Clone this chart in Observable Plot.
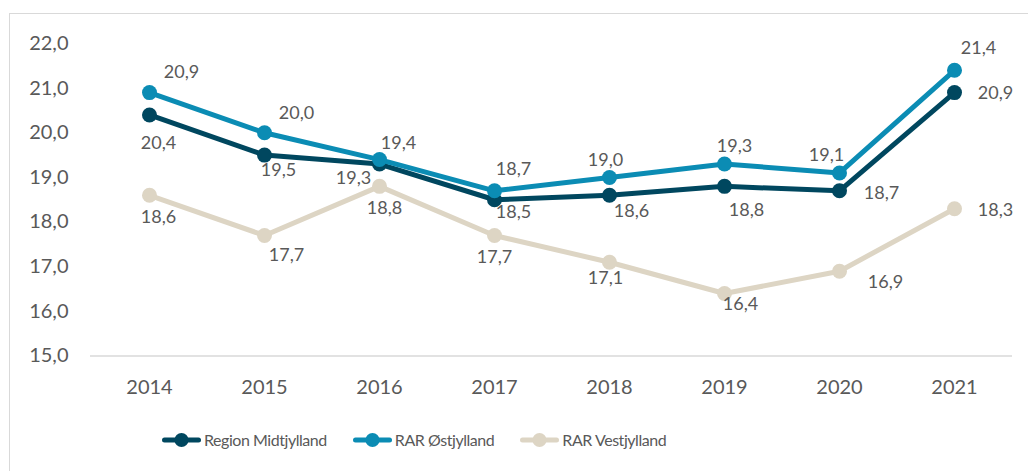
<!DOCTYPE html>
<html>
<head>
<meta charset="utf-8">
<script src="https://cdn.jsdelivr.net/npm/d3@7"></script>
<script src="https://cdn.jsdelivr.net/npm/@observablehq/plot@0.6"></script>
<style>
  html, body { margin: 0; padding: 0; background: #fff; overflow: hidden; }
  #wrap { position: relative; width: 1028px; height: 471px; font-family: Lato, "Open Sans", sans-serif; color: #595959; }
  #frame { position: absolute; left: 9px; top: 13px; width: 1040px; height: 480px; border: 1.5px solid #d9d9d9; box-sizing: border-box; }
  #chart { position: absolute; left: 0; top: 0; }
  #legend { position: absolute; left: 162px; top: 430px; display: flex; align-items: center; gap: 26px; font-size: 16px; letter-spacing: -0.45px; color: #595959; }
  .item { display: flex; align-items: center; gap: 3px; }
  .item svg { display: block; }
</style>
</head>
<body>
<div id="wrap">
  <div id="frame"></div>
  <div id="chart"></div>
  <div id="legend"></div>
</div>
<script>
// ---- data ----
const years = ["2014", "2015", "2016", "2017", "2018", "2019", "2020", "2021"];
const regionMidtjylland = [20.4, 19.5, 19.3, 18.5, 18.6, 18.8, 18.7, 20.9];
const rarOstjylland = [20.9, 20.0, 19.4, 18.7, 19.0, 19.3, 19.1, 21.4];
const rarVestjylland = [18.6, 17.7, 18.8, 17.7, 17.1, 16.4, 16.9, 18.3];
const seriesNames = ["Region Midtjylland", "RAR Østjylland", "RAR Vestjylland"];
const yTicks = [15, 16, 17, 18, 19, 20, 21, 22];

// ---- styles ----
const colors = ["#00475f", "#0b8cb4", "#ddd5c4"];
// label offsets (dx, dy) per series, per year
const labelOffsets = [
  [[9, 28], [14, 15], [-26, 14], [19, 12], [22, 16], [22, 24], [42, 2], [41, 1]],
  [[32, -20], [32, -20], [19, -16], [19, -22], [-4, -17], [10, -18], [-13, -18], [24, -22]],
  [[9, 22], [22, 20], [5, 22], [0, 22], [-4, 16], [16, 11], [46, 11], [41, 2]]
];

const fmt = v => v.toFixed(1).replace(".", ",");
const seriesValues = [regionMidtjylland, rarOstjylland, rarVestjylland];
const rows = [];
seriesValues.forEach((vals, s) => vals.forEach((v, i) => rows.push({series: seriesNames[s], year: years[i], value: v, s, i})));

const marks = [
  Plot.ruleY([15], {stroke: "#d9d9d9", strokeWidth: 1.5}),
  Plot.axisY({ticks: yTicks, tickSize: 0, tickPadding: 22, tickFormat: fmt, fontSize: 20, label: null}),
  Plot.axisX({tickSize: 0, tickPadding: 24, fontSize: 20, label: null})
];
seriesNames.forEach((name, s) => {
  const d = rows.filter(r => r.s === s);
  marks.push(Plot.line(d, {x: "year", y: "value", stroke: colors[s], strokeWidth: 5, curve: "linear"}));
  marks.push(Plot.dot(d, {x: "year", y: "value", fill: colors[s], r: 7.5}));
});
rows.forEach(r => {
  const [dx, dy] = labelOffsets[r.s][r.i];
  marks.push(Plot.text([r], {x: "year", y: "value", text: d => fmt(d.value), dx, dy, fontSize: 18, fill: "#595959"}));
});

const chart = Plot.plot({
  width: 1028,
  height: 410,
  marginLeft: 90,
  marginRight: 16,
  marginTop: 43,
  marginBottom: 54.5,
  style: {fontFamily: "Lato, 'Open Sans', sans-serif", color: "#595959", background: "transparent", overflow: "visible"},
  x: {type: "point", domain: years, padding: 0.5},
  y: {domain: [15, 22]},
  marks
});
document.getElementById("chart").appendChild(chart);

// ---- legend ----
const legend = document.getElementById("legend");
seriesNames.forEach((name, s) => {
  const item = document.createElement("div");
  item.className = "item";
  item.innerHTML = `<svg width="39" height="16"><line x1="2.5" y1="8" x2="36.5" y2="8" stroke="${colors[s]}" stroke-width="5" stroke-linecap="round"/><circle cx="19.5" cy="8" r="7" fill="${colors[s]}"/></svg><span>${name}</span>`;
  legend.appendChild(item);
});
</script>
</body>
</html>
